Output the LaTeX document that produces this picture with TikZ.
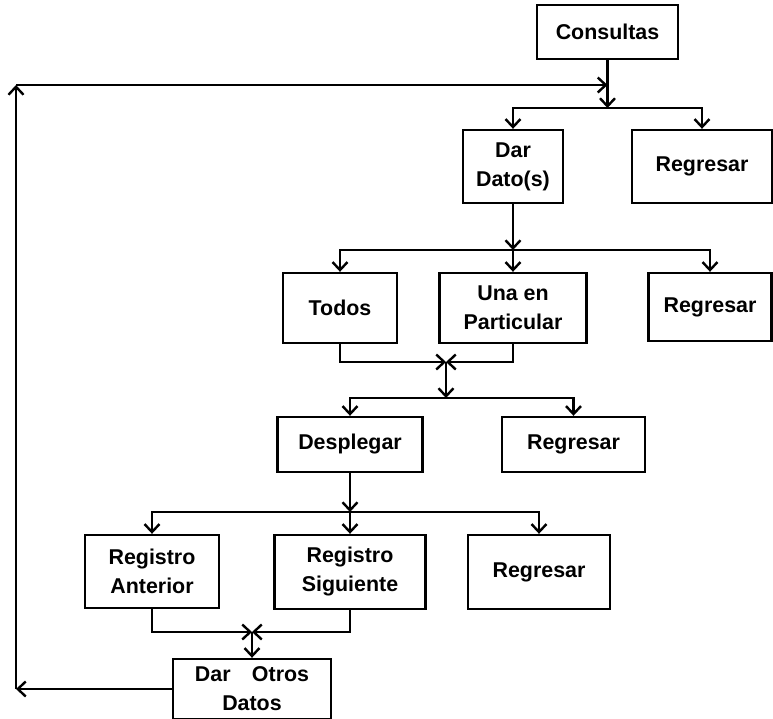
\documentclass[tikz,border=0pt]{standalone}
\usepackage{fontspec}
\setmainfont{Liberation Sans}
\usepackage{tikz}
\usetikzlibrary{arrows.meta}

\begin{document}
\begin{tikzpicture}[
  x=0.5pt, y=-0.5pt,
  >={Straight Barb[length=4pt,width=7.5pt]},
  line width=1.2pt,
  box/.style={draw, rectangle, align=center, inner sep=0pt,
              font=\bfseries\fontsize{10.7}{14.5}\selectfont}
]
\useasboundingbox (0,0) rectangle (773,719);

\node[box, minimum width=70.5pt, minimum height=27pt] (consultas) at (607.5,32)  {Consultas};
\node[box, minimum width=50pt,   minimum height=36.5pt] (dato)    at (513,166.5) {Dar\\Dato(s)};
\node[box, minimum width=70pt,   minimum height=36.5pt] (reg1)    at (702,166.5) {Regresar};
\node[box, minimum width=57pt,   minimum height=35pt] (todos)     at (340,308)   {Todos};
\node[box, minimum width=73.5pt, minimum height=35pt] (una)       at (513,308)   {Una en\\Particular};
\node[box, minimum width=61.5pt, minimum height=34pt] (reg2)      at (710,307)   {Regresar};
\node[box, minimum width=72.5pt, minimum height=27.5pt] (desp)    at (350,444.5) {Desplegar};
\node[box, minimum width=71.5pt, minimum height=27.5pt] (reg3)    at (573.5,444.5) {Regresar};
\node[box, minimum width=67pt,   minimum height=36.5pt] (ant)     at (152,571.5) {Registro\\Anterior};
\node[box, minimum width=75.5pt, minimum height=37pt] (sig)       at (350,572)   {Registro\\Siguiente};
\node[box, minimum width=71pt,   minimum height=37pt] (reg4)      at (539,572)   {Regresar};
\node[box, minimum width=79pt,   minimum height=30pt] (otros)     at (252,689)   {Dar\quad Otros\\Datos};

\coordinate (j1) at (607.5,108);
\coordinate (j2) at (513,250);
\coordinate (m1) at (446,362);
\coordinate (j3) at (446,398);
\coordinate (j4) at (350,512);
\coordinate (m2) at (252,632);
\coordinate (loopul) at (16,85);
\coordinate (j0) at (consultas.south |- loopul);

\draw[->] (consultas) -- (j1);
\draw[->] (j1) -| (dato);
\draw[->] (j1) -| (reg1);
\draw[->] (dato) -- (j2);
\draw[->] (j2) -| (todos);
\draw[->] (j2) -- (una);
\draw[->] (j2) -| (reg2);
\draw[->] (todos) |- (m1);
\draw[->] (una) |- (m1);
\draw[->] (m1) -- (j3);
\draw[->] (j3) -| (desp);
\draw[->] (j3) -| (reg3);
\draw[->] (desp) -- (j4);
\draw[->] (j4) -| (ant);
\draw[->] (j4) -- (sig);
\draw[->] (j4) -| (reg4);
\draw[->] (ant) |- (m2);
\draw[->] (sig) |- (m2);
\draw[->] (m2) -- (otros);
\draw[->] (otros) -- (otros -| loopul);
\draw[->] (otros -| loopul) -- (loopul);
\draw[->] (loopul) -- (j0);
\end{tikzpicture}
\end{document}
